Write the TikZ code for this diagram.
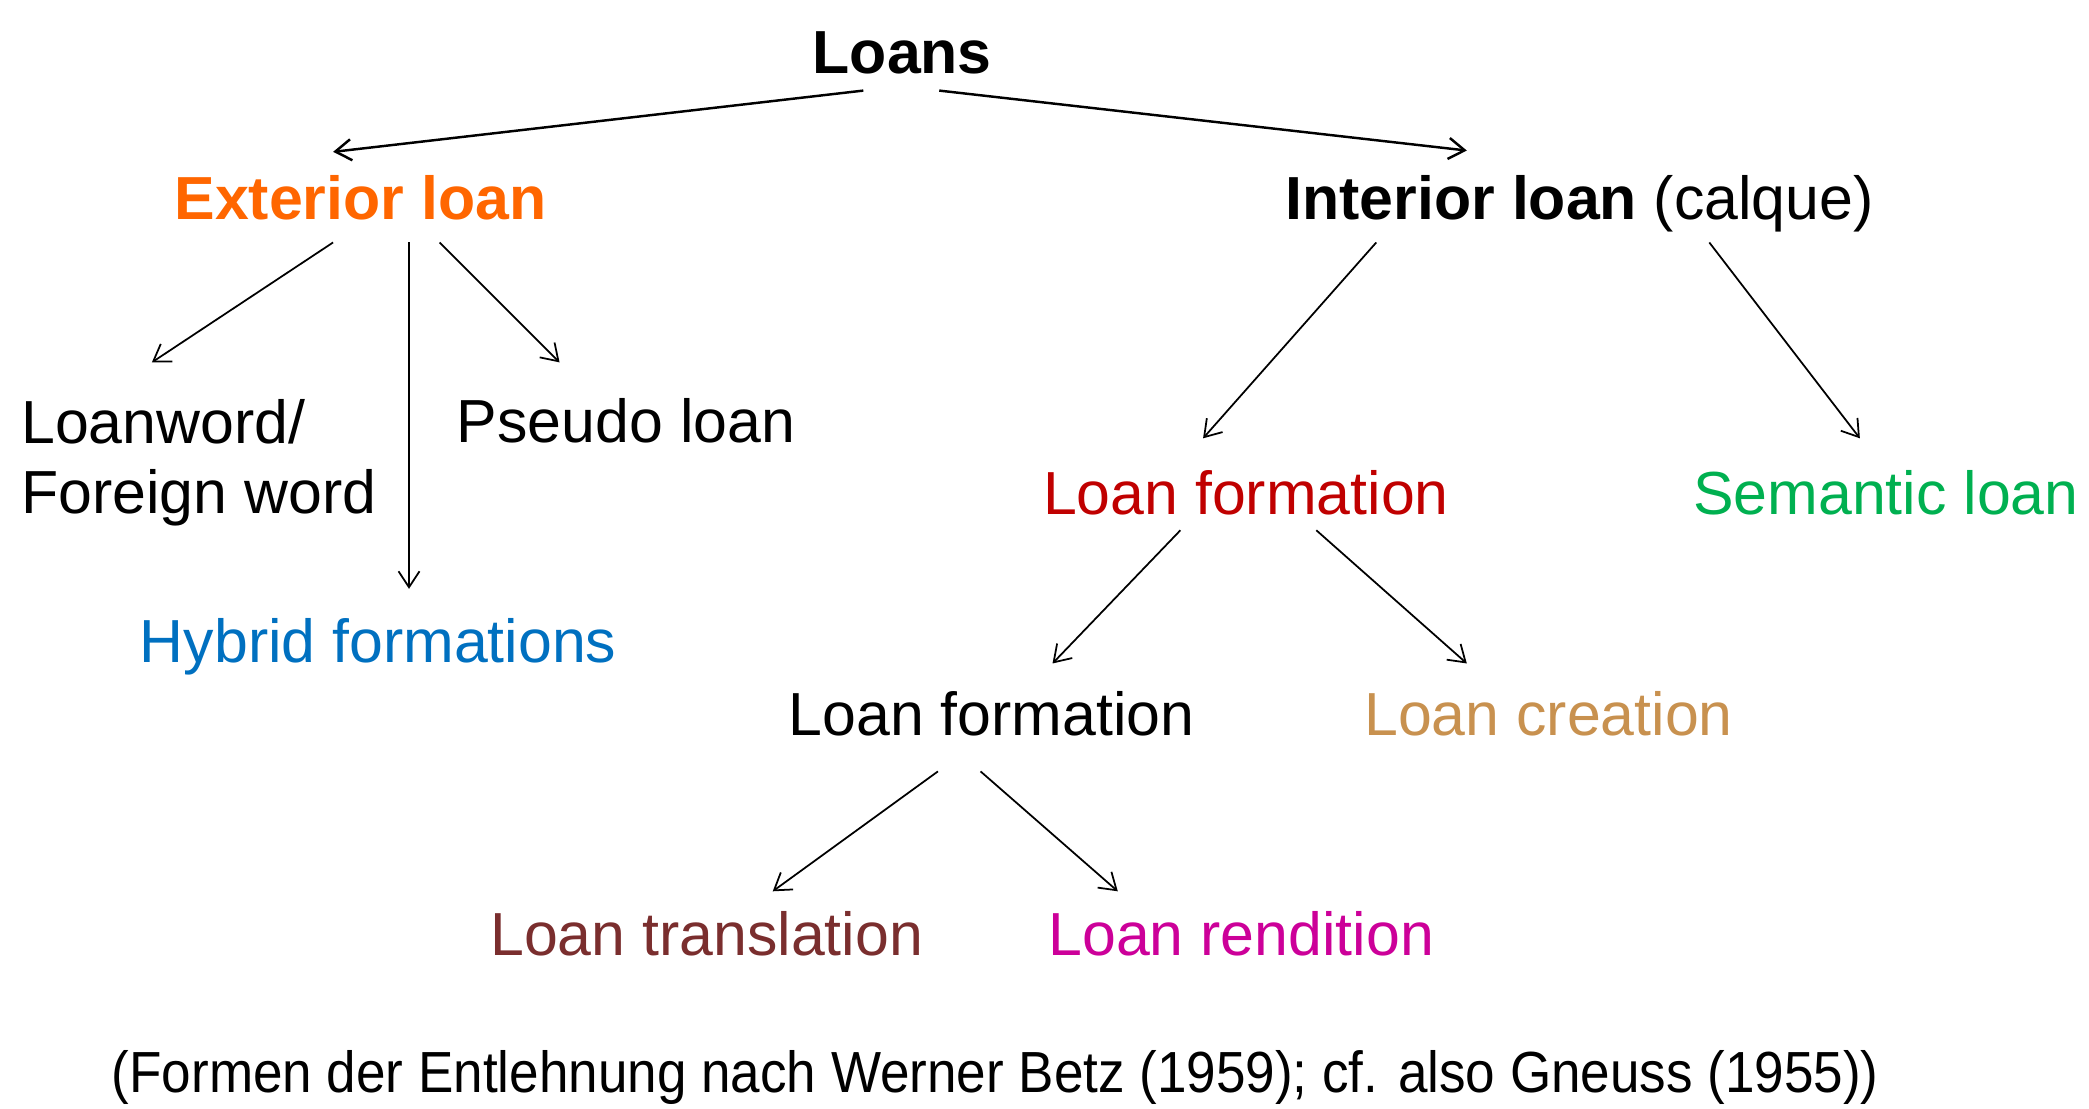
\documentclass[tikz,border=0pt]{standalone}
\usepackage{fontspec}
\setmainfont{Liberation Sans}
\usetikzlibrary{arrows.meta,calc}
\definecolor{cext}{HTML}{FF6600}
\definecolor{chyb}{HTML}{0070C0}
\definecolor{clf}{HTML}{C00000}
\definecolor{csem}{HTML}{00B050}
\definecolor{clc}{HTML}{C8914F}
\definecolor{clt}{HTML}{7A2E2E}
\definecolor{clr}{HTML}{CC0099}
\begin{document}
\begin{tikzpicture}[x=0.013323cm,y=-0.013323cm,
  lbl/.style={inner sep=0pt,outer sep=0pt,anchor=base west,font=\fontsize{17.3}{19.8}\selectfont},
  arr/.style={draw=black,line width=0.5pt,-{Straight Barb[length=1.6mm,width=2.1mm]}},
  toparr/.style={arr,line width=0.7pt}]
\useasboundingbox (0,0) rectangle (1568,832);
\node[lbl] (loans) at (610,55) {\textbf{Loans}};
\node[lbl,text=cext] (ext) at (131,165) {\textbf{Exterior loan}};
\node[lbl] (int) at (965,165) {\textbf{Interior loan} (calque)};
\node[lbl,anchor=north west,align=left] (lw) at (16,300) {Loanword/\\Foreign word};
\node[lbl] (pseudo) at (343,332) {Pseudo loan};
\node[lbl,text=chyb] (hyb) at (105,497) {Hybrid formations};
\node[lbl,text=clf] (lf1) at (783,386) {Loan formation};
\node[lbl,text=csem] (sem) at (1271,386) {Semantic loan};
\node[lbl] (lf2) at (592,552) {Loan formation};
\node[lbl,text=clc] (lc) at (1024,552) {Loan creation};
\node[lbl,text=clt] (lt) at (368,717) {Loan translation};
\node[lbl,text=clr] (lr) at (787,717) {Loan rendition};
\node[lbl,font=\fontsize{16.5}{19}\selectfont] (foot) at (84,820) {\resizebox{17.666cm}{\height}{(Formen der Entlehnung nach Werner Betz (1959); cf. also Gneuss (1955))}};
\draw[toparr] ($(loans.base west)+(38,13)$) -- ($(ext.base west)+(119,-51)$);
\draw[toparr] ($(loans.base west)+(95,13)$) -- ($(int.base west)+(136,-52)$);
\draw[arr] ($(ext.base west)+(119,17)$) -- ($(lw.north west)+(98,-28)$);
\draw[arr] ($(ext.base west)+(176,17)$) -- ($(hyb.base west)+(202,-55)$);
\draw[arr] ($(ext.base west)+(199,17)$) -- ($(pseudo.base west)+(77,-60)$);
\draw[arr] ($(int.base west)+(68,17)$) -- ($(lf1.base west)+(120,-57)$);
\draw[arr] ($(int.base west)+(318,17)$) -- ($(sem.base west)+(125,-57)$);
\draw[arr] ($(lf1.base west)+(103,12)$) -- ($(lf2.base west)+(198,-54)$);
\draw[arr] ($(lf1.base west)+(205,12)$) -- ($(lc.base west)+(77,-54)$);
\draw[arr] ($(lf2.base west)+(112,27)$) -- ($(lt.base west)+(212,-48)$);
\draw[arr] ($(lf2.base west)+(144,27)$) -- ($(lr.base west)+(52,-48)$);
\end{tikzpicture}
\end{document}
